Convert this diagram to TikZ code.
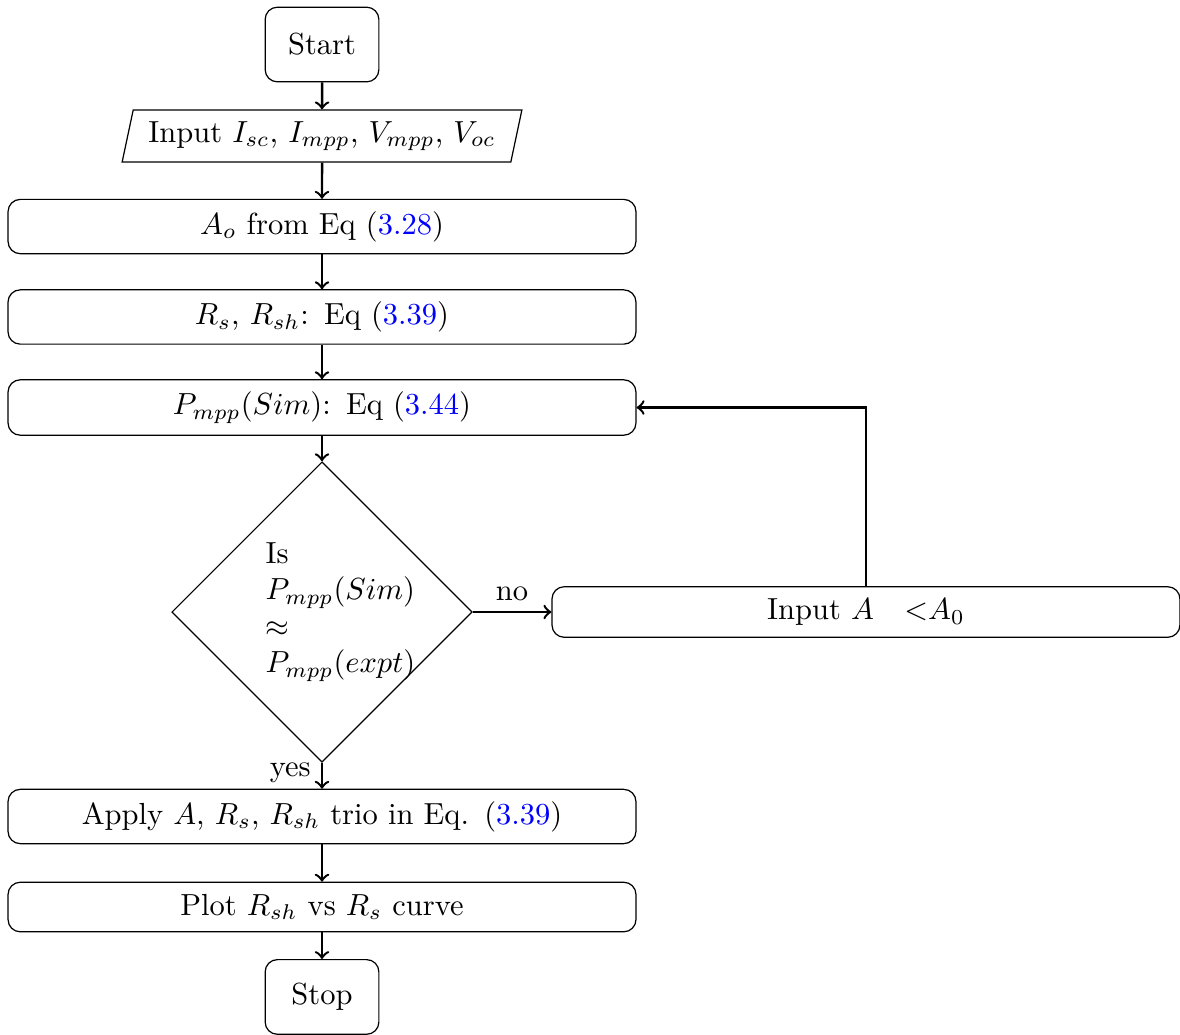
\documentclass[tikz,border=0pt]{standalone}
\usetikzlibrary{shapes.geometric}
\begin{document}
\begin{tikzpicture}[
        startstop/.style = {draw, rounded corners, minimum width=1.31cm, minimum height=0.86cm},
        io/.style = {draw, trapezium, trapezium left angle=78, trapezium right angle=102, inner xsep=2.4pt, minimum height=0.6cm},
        process/.style = {draw, rounded corners, text width=7cm, align=center, inner ysep=3.9pt},
        decision/.style = {draw, diamond, text width=1.3cm, align=left, minimum width=3.46cm, minimum height=3.46cm},
        arrow/.style = {thick, ->}
    ]
        \useasboundingbox (-3.71, 0.513) rectangle (9.885, -11.40);
        \node [startstop] (start) at (0, 0) {Start};
        \node [io] (input) at (0, -1.054) {Input $I_{sc}$, $I_{mpp}$, $V_{mpp}$, $V_{oc}$};
        \node [process] (ao) at (0, -2.097) {$A_o$ from Eq (\textcolor{blue}{3.28})};
        \node [process] (rs) at (0, -3.139) {$R_s$, $R_{sh}$: Eq (\textcolor{blue}{3.39})};
        \node [process] (pmpp) at (0, -4.182) {$P_{mpp}(Sim)$: Eq (\textcolor{blue}{3.44})};
        \node [decision] (check) at (0, -6.538) {Is\\ $P_{mpp}(Sim)$\\ $\approx$\\ $P_{mpp}(expt)$};
        \node [process] (newa) at (6.267, -6.538) {Input $A$\quad <$A_0$};
        \node [process] (apply) at (0, -8.894) {Apply $A$, $R_s$, $R_{sh}$ trio in Eq. (\textcolor{blue}{3.39})};
        \node [process] (plot) at (0, -9.937) {Plot $R_{sh}$ vs $R_s$ curve};
        \node [startstop] (stop) at (0, -10.973) {Stop};
        \draw [arrow] (start) -- (input);
        \draw [arrow] (input) -- (ao);
        \draw [arrow] (ao) -- (rs);
        \draw [arrow] (rs) -- (pmpp);
        \draw [arrow] (pmpp) -- (check);
        \draw [arrow] (check.east) -- node [above] (no) {no} (newa.west);
        \draw [arrow] (newa.north) |- (pmpp.east);
        \draw [arrow] (check.south) -- node [left, pos=0.4] (yes) {yes} (apply.north);
        \draw [arrow] (apply) -- (plot);
        \draw [arrow] (plot) -- (stop);
    \end{tikzpicture}
\end{document}
